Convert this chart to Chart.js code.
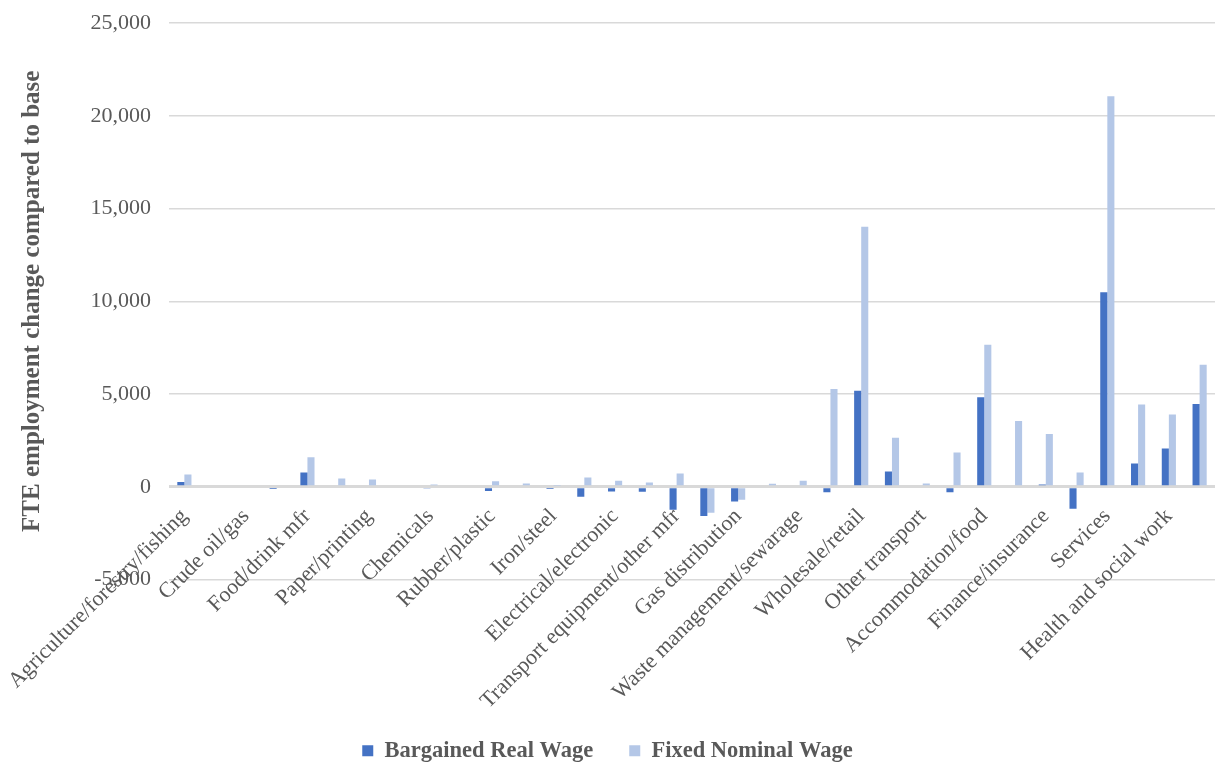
<!DOCTYPE html>
<html>
<head>
<meta charset="utf-8">
<script src="https://cdn.jsdelivr.net/npm/chart.js@4"></script>
<style>
  html, body { margin: 0; padding: 0; background: #fff; }
  #wrap { width: 1215px; height: 763px; position: relative; }
</style>
</head>
<body>
<div id="wrap"><canvas id="grafico"></canvas></div>
<script>
// sectors (labels of the odd ones are not shown on the axis)
const setores = [
  'Agriculture/forestry/fishing', 'Coal mining', 'Crude oil/gas', 'Other mining',
  'Food/drink mfr', 'Textiles/clothing', 'Paper/printing', 'Coke/refined petroleum',
  'Chemicals', 'Pharmaceuticals', 'Rubber/plastic', 'Non-metallic minerals',
  'Iron/steel', 'Metal products', 'Electrical/electronic', 'Machinery',
  'Transport equipment/other mfr', 'Electricity', 'Gas distribution', 'Water supply',
  'Waste management/sewarage', 'Construction', 'Wholesale/retail', 'Land transport',
  'Other transport', 'Postal/courier', 'Accommodation/food', 'Communication',
  'Finance/insurance', 'Real estate', 'Services', 'Public administration',
  'Health and social work', 'Other services'
];

const salarioReal = [
  250, 0, -80, -120, 770, 0, 0, 0, -70, 0, -230, 0, -120, -540, -250, -270, -1235,
  -1580, -790, 0, 0, -290, 5180, 825, 0, -300, 4820, 0, 125, -1180, 10480, 1255, 2060, 4460
];

const salarioNominal = [
  665, 0, 0, 0, 1595, 450, 395, 0, 125, 0, 290, 180, 60, 500, 320, 230, 715,
  -1400, -700, 160, 320, 5270, 14010, 2635, 180, 1845, 7650, 3550, 2850, 770, 21050, 4430, 3890, 6580
];

const yTicks = [-5000, 0, 5000, 10000, 15000, 20000, 25000];

const cinza = '#595959';
const serif = "'Liberation Serif', 'Times New Roman', serif";

const ctx = document.getElementById('grafico').getContext('2d');

new Chart(ctx, {
  type: 'bar',
  data: {
    labels: setores,
    datasets: [
      {
        label: 'Bargained Real Wage',
        data: salarioReal,
        backgroundColor: '#4472C4',
        borderWidth: 0,
        categoryPercentage: 0.46,
        barPercentage: 1.0
      },
      {
        label: 'Fixed Nominal Wage',
        data: salarioNominal,
        backgroundColor: '#B4C7E7',
        borderWidth: 0,
        categoryPercentage: 0.46,
        barPercentage: 1.0
      }
    ]
  },
  options: {
    responsive: true,
    maintainAspectRatio: false,
    animation: false,
    layout: { padding: { left: 0, right: 0, top: 23, bottom: -9 } },
    plugins: {
      tooltip: { enabled: false },
      legend: {
        position: 'bottom',
        labels: {
          color: cinza,
          font: { family: serif, size: 22.5, weight: 'bold' },
          boxWidth: 11,
          boxHeight: 11,
          padding: 36
        }
      }
    },
    scales: {
      x: {
        grid: { display: false, drawTicks: false },
        border: { display: false },
        ticks: {
          color: cinza,
          font: { family: serif, size: 22 },
          maxRotation: 45,
          minRotation: 45,
          autoSkip: false,
          padding: -76,
          callback: function (v, i) { return i % 2 === 0 ? setores[i] : ''; }
        },
        afterFit: function (scale) {
          scale.height = 124;
          scale.paddingLeft = 0;
          scale.paddingRight = 0;
          // labels sit up next to the zero line, so don't clip them to the axis box
          scale._computeLabelArea = function () { return undefined; };
        }
      },
      y: {
        min: -5000,
        max: 25000,
        afterBuildTicks: function (scale) { scale.ticks = yTicks.map(v => ({ value: v })); },
        afterFit: function (scale) {
          scale.width = 169;
          scale.paddingTop = 0;
          scale.paddingBottom = 0;
        },
        grid: {
          color: '#D9D9D9',
          lineWidth: c => (c.tick && c.tick.value === 0 ? 3 : 1.5),
          drawTicks: false
        },
        border: { display: false },
        ticks: {
          color: cinza,
          font: { family: serif, size: 22 },
          padding: 18,
          callback: v => v.toLocaleString('en-US')
        },
        title: {
          display: true,
          text: 'FTE employment change compared to base',
          color: cinza,
          font: { family: serif, size: 25, weight: 'bold' },
          padding: { top: 18, bottom: 0 }
        }
      }
    }
  }
});
</script>
</body>
</html>
